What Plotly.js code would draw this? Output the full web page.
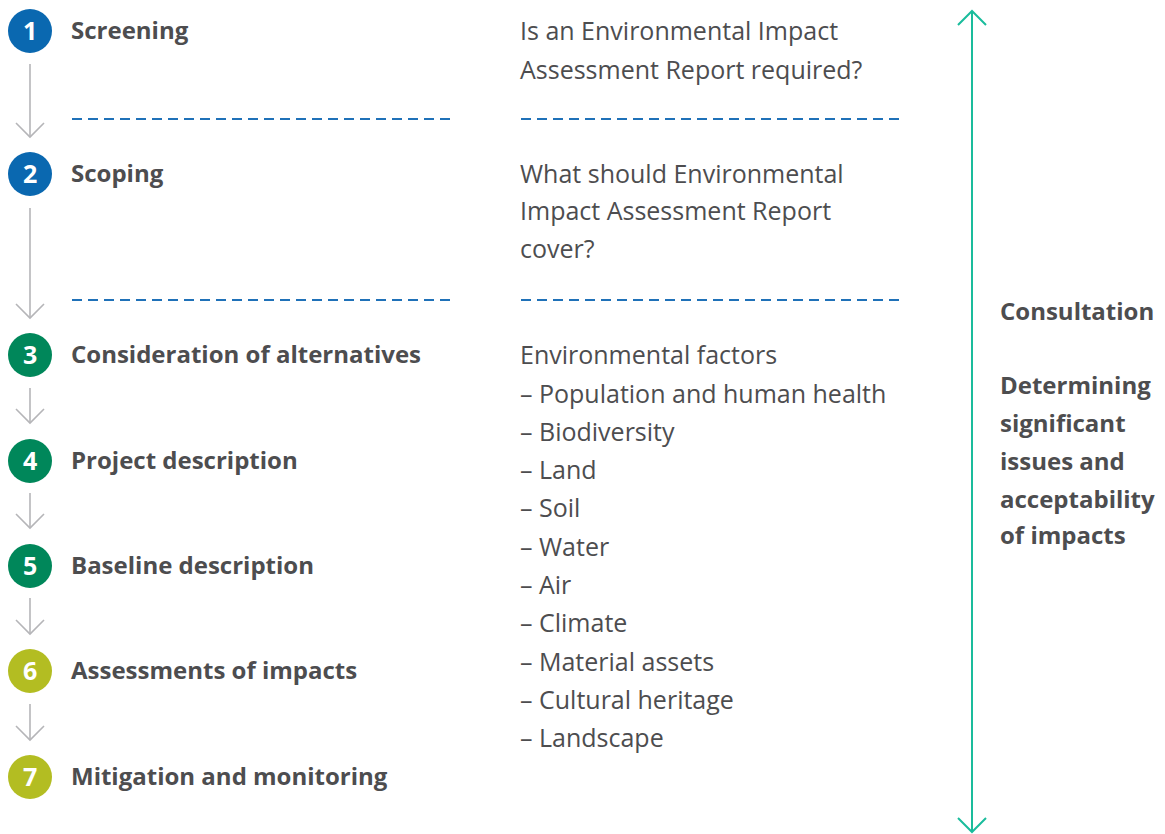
<!DOCTYPE html>
<html>
<head>
<meta charset="utf-8">
<script src="https://cdn.plot.ly/plotly-3.0.1.min.js"></script>
<style>html,body{margin:0;padding:0;background:#fff;}#chart{width:1165px;height:834px;}</style>
</head>
<body>
<div id="chart"></div>
<script>
// ---- data ----
const stepNumbers = ["1", "2", "3", "4", "5", "6", "7"];
const stepLabels = ["Screening", "Scoping", "Consideration of alternatives", "Project description",
  "Baseline description", "Assessments of impacts", "Mitigation and monitoring"];
const stepGroups = ["blue", "blue", "green", "green", "green", "olive", "olive"];
const questionLines = ["Is an Environmental Impact", "Assessment Report required?"];
const scopeLines = ["What should Environmental", "Impact Assessment Report", "cover?"];
const factorHeader = "Environmental factors";
const factors = ["Population and human health", "Biodiversity", "Land", "Soil", "Water", "Air",
  "Climate", "Material assets", "Cultural heritage", "Landscape"];
const sideLabels = ["Consultation", "", "Determining", "significant", "issues and", "acceptability", "of impacts"];

// ---- layout geometry (pixel space) ----
const W = 1165, H = 834;
const stepY = [31, 174, 355, 461, 566, 671, 777];
const groupColor = {blue: "#0a68b0", green: "#00875a", olive: "#b3bd22"};
const textGray = "#4d4d4f";
const arrowGray = "#b5b5b8";
const dashBlue = "#1f71b8";
const teal = "#1abc9c";
const circleX = 30;
const FONT = "Open Sans, sans-serif";
const REG = 25, BOLD = 24;
const dy = -1.5; // text baseline nudge

const traces = [];
const annotations = [];

// gray arrows between steps
const ax = [], ay = [];
const arrowSeg = [[64, 137], [208, 318], [388, 423], [493, 528], [598, 634], [704, 740]];
arrowSeg.forEach(([a, b]) => {
  ax.push(circleX, circleX, null, circleX - 14, circleX, circleX + 14, null);
  ay.push(a, b, null, b - 14, b, b - 14, null);
});
traces.push({x: ax, y: ay, mode: "lines", line: {color: arrowGray, width: 1.6}, hoverinfo: "skip"});

// dashed separators
[119, 300].forEach(yv => {
  traces.push({x: [72, 452], y: [yv, yv], mode: "lines", line: {color: dashBlue, width: 2, dash: "10px,6px"}, hoverinfo: "skip"});
  traces.push({x: [521, 900], y: [yv, yv], mode: "lines", line: {color: dashBlue, width: 2, dash: "10px,6px"}, hoverinfo: "skip"});
});

// teal double arrow
const tx = 972, tTop = 11, tBot = 832;
traces.push({
  x: [tx, tx, null, tx - 14, tx, tx + 14, null, tx - 14, tx, tx + 14],
  y: [tTop, tBot, null, tTop + 14, tTop, tTop + 14, null, tBot - 14, tBot, tBot - 14],
  mode: "lines", line: {color: teal, width: 2}, hoverinfo: "skip"
});

// circles
traces.push({
  x: stepNumbers.map(() => circleX), y: stepY, mode: "markers",
  marker: {size: 44, color: stepGroups.map(g => groupColor[g]), line: {width: 0}},
  hoverinfo: "skip"
});

// numbers and labels
stepNumbers.forEach((n, i) => {
  annotations.push({x: circleX, y: stepY[i] + dy, text: "<b>" + n + "</b>", showarrow: false,
    xanchor: "center", yanchor: "middle", font: {family: FONT, size: 25, color: "#ffffff"}});
  annotations.push({x: 69, y: stepY[i] + dy, text: "<b>" + stepLabels[i] + "</b>", showarrow: false,
    xanchor: "left", yanchor: "middle", font: {family: FONT, size: BOLD, color: textGray}});
});

// right-column text
const lineH = 38.3;
const colX = 518;
questionLines.forEach((t, i) => annotations.push({x: colX, y: 31 + i * 39 + dy, text: t, showarrow: false,
  xanchor: "left", yanchor: "middle", font: {family: FONT, size: REG, color: textGray}}));
scopeLines.forEach((t, i) => annotations.push({x: colX, y: 174 + i * 37.5 + dy, text: t, showarrow: false,
  xanchor: "left", yanchor: "middle", font: {family: FONT, size: REG, color: textGray}}));
annotations.push({x: colX, y: 355 + dy, text: factorHeader, showarrow: false,
  xanchor: "left", yanchor: "middle", font: {family: FONT, size: REG, color: textGray}});
factors.forEach((t, i) => annotations.push({x: colX, y: 394 + i * lineH + dy, text: "– " + t, showarrow: false,
  xanchor: "left", yanchor: "middle", font: {family: FONT, size: REG, color: textGray}}));

// side labels
const sideY = [312, 349, 386, 424, 462, 500, 536];
sideLabels.forEach((t, i) => {
  if (!t) return;
  annotations.push({x: 998, y: sideY[i] + dy, text: "<b>" + t + "</b>", showarrow: false,
    xanchor: "left", yanchor: "middle", font: {family: FONT, size: BOLD, color: textGray}});
});

const layout = {
  width: W, height: H, margin: {l: 0, r: 0, t: 0, b: 0},
  paper_bgcolor: "#ffffff", plot_bgcolor: "#ffffff", showlegend: false,
  xaxis: {range: [0, W], visible: false, fixedrange: true},
  yaxis: {range: [H, 0], visible: false, fixedrange: true},
  annotations: annotations
};
Plotly.newPlot("chart", traces, layout, {staticPlot: true, displayModeBar: false});
</script>
</body>
</html>
